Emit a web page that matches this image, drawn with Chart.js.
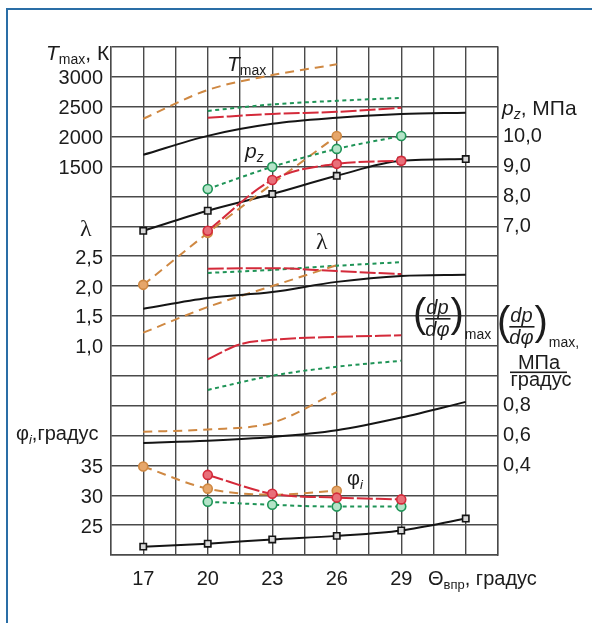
<!DOCTYPE html>
<html>
<head>
<meta charset="utf-8">
<script src="https://cdn.jsdelivr.net/npm/chart.js@4.4.1/dist/chart.umd.min.js"></script>
<style>
  html, body { margin: 0; padding: 0; background: #fff; }
  canvas { display: block; }
</style>
</head>
<body>
<canvas id="engine-chart" width="592" height="623"></canvas>
<script>
// Injection advance angle, degrees
const thetaBlack = [17, 20, 23, 26, 29, 32];
const thetaOrange = [17, 20, 23, 26];
const thetaRedGreen = [20, 23, 26, 29];
const thetaRedDp = [20, 21.5, 23, 26, 29];
const thetaTicks = [17, 20, 23, 26, 29];

// Maximum cycle temperature, K
const tmaxBlack = [1696, 2013, 2214, 2315, 2380, 2400];
const tmaxOrange = [2300, 2780, 3030, 3210];
const tmaxRed = [2317, 2380, 2415, 2483];
const tmaxGreen = [2431, 2540, 2600, 2649];
const tmaxTicks = [1500, 2000, 2500, 3000];

// Maximum combustion pressure, MPa
const pzBlack = [6.85, 7.52, 8.08, 8.69, 9.19, 9.25];
const pzOrange = [5.04, 6.78, 8.42, 10.02];
const pzRed = [6.85, 8.55, 9.09, 9.19];
const pzGreen = [8.25, 8.99, 9.59, 10.02];
const pzTicks = [7, 8, 9, 10];

// Pressure rise ratio
const lambdaBlack = [1.62, 1.80, 1.90, 2.07, 2.17, 2.19];
const lambdaOrange = [1.22, 1.65, 2.0, 2.35];
const lambdaRed = [2.29, 2.30, 2.25, 2.20];
const lambdaGreen = [2.22, 2.27, 2.34, 2.40];
const lambdaTicks = [1.0, 1.5, 2.0, 2.5];

// Maximum rate of pressure rise, MPa/degree
const dpBlack = [0.55, 0.565, 0.59, 0.635, 0.72, 0.825];
const dpOrange = [0.625, 0.64, 0.685, 0.89];
const dpRed = [1.11, 1.21, 1.24, 1.26, 1.27];
const dpGreen = [0.905, 1.0, 1.06, 1.10];
const dpTicks = [0.4, 0.6, 0.8];

// Indicated combustion duration, degrees
const phiBlack = [21.4, 21.9, 22.6, 23.2, 24.1, 26.1];
const phiOrange = [34.8, 31.1, 30.1, 30.75];
const phiRed = [33.4, 30.25, 29.6, 29.3];
const phiGreen = [28.9, 28.4, 28.1, 28.1];
const phiTicks = [25, 30, 35];

// which orange points carry a marker (the one at 23 sits under the red one)
const orangeMarks = [true, true, false, true];

const fontFamily = '"Liberation Sans", Arial, Helvetica, sans-serif';
const textColor = '#1c1c1c';
const gridColor = '#4a4a4a';
const tickFont = { family: fontFamily, size: 20 };

const styles = {
  black:  { color: '#151515', dash: [],      marker: 'rect',   fill: '#d9d9d9' },
  orange: { color: '#cf8842', dash: [9, 6],  marker: 'circle', fill: '#e6a66a' },
  red:    { color: '#d42a3a', dash: [16, 3], marker: 'circle', fill: '#e8707a' },
  green:  { color: '#1f9457', dash: [4, 3.5], marker: 'circle', fill: '#b4e4c8' }
};

// markers: false, true, or one flag per point
function series(xs, ys, axis, kind, markers) {
  const s = styles[kind];
  const radius = Array.isArray(markers)
    ? markers.map(m => m ? 4.5 : 0)
    : (markers ? 4.5 : 0);
  return {
    data: xs.map((x, i) => ({ x: x, y: ys[i] })),
    yAxisID: axis,
    borderColor: s.color,
    borderWidth: 2,
    borderDash: s.dash,
    cubicInterpolationMode: 'monotone',
    pointStyle: s.marker,
    pointRadius: radius,
    pointBackgroundColor: s.fill,
    pointBorderColor: s.color,
    pointBorderWidth: 1.6,
    fill: false
  };
}

function near(v, list) {
  return list.some(t => Math.abs(t - v) < 1e-6);
}

function comma(v, digits) {
  return v.toFixed(digits).replace('.', ',');
}

// extra value axis laid over the main one: same 17 grid rows, own units
function valueAxis(position, weight, min, max, step, ticks, digits, width, padding, offset) {
  return {
    type: 'linear',
    position: position,
    weight: weight,
    min: min,
    max: max,
    grid: { display: false, drawTicks: false },
    border: { display: false },
    ticks: {
      stepSize: step,
      autoSkip: false,
      padding: padding,
      labelOffset: offset,
      font: tickFont,
      color: textColor,
      callback: v => near(v, ticks) ? comma(v, digits) : ''
    },
    afterFit: s => { s.width = width; }
  };
}

// put the overlay axes on top of the main left/right axes
const overlayAxes = {
  id: 'overlayAxes',
  afterLayout(chart) {
    const sc = chart.scales;
    for (const [id, base] of [['yLambda', 'yT'], ['yPhi', 'yT'], ['yDp', 'yPz']]) {
      sc[id].left = sc[base].left;
      sc[id].right = sc[base].right;
      sc[id].width = sc[base].width;
    }
  }
};

// draws a run of [text, style] pieces; style: i = italic, s = subscript
function rich(ctx, x, y, parts, size) {
  size = size || 20;
  for (const [text, style] of parts) {
    const sub = style.includes('s');
    const italic = style.includes('i');
    const fs = sub ? Math.round(size * 0.66) : size;
    ctx.font = (italic ? 'italic ' : '') + fs + 'px ' + fontFamily;
    ctx.fillText(text, x, sub ? y + 4 : y);
    x += ctx.measureText(text).width;
  }
  return x;
}

// (dp/dφ) with a subscript tail, lineY is the fraction bar
function dpdphi(ctx, x, lineY, tail) {
  ctx.textAlign = 'left';
  ctx.font = '40px ' + fontFamily;
  ctx.fillText('(', x, lineY + 8);
  x += ctx.measureText('(').width - 1;
  ctx.font = 'italic 20px ' + fontFamily;
  const w = Math.max(ctx.measureText('dp').width, ctx.measureText('dφ').width);
  ctx.textAlign = 'center';
  ctx.fillText('dp', x + w / 2, lineY - 5);
  ctx.fillText('dφ', x + w / 2, lineY + 17);
  ctx.fillRect(x, lineY - 1, w + 1, 1.6);
  ctx.textAlign = 'left';
  x += w + 1;
  ctx.font = '40px ' + fontFamily;
  ctx.fillText(')', x, lineY + 8);
  x += ctx.measureText(')').width + 1;
  ctx.font = '14px ' + fontFamily;
  ctx.fillText(tail, x, lineY + 20);
}

const captions = {
  id: 'captions',
  beforeDraw(chart) {
    const ctx = chart.ctx;
    ctx.save();
    ctx.fillStyle = '#fff';
    ctx.fillRect(0, 0, chart.width, chart.height);
    ctx.strokeStyle = '#2a6ea6';
    ctx.lineWidth = 2;
    ctx.strokeRect(7, 9, 640, 680);
    ctx.restore();
  },
  afterDraw(chart) {
    const ctx = chart.ctx;
    ctx.save();
    ctx.fillStyle = textColor;
    ctx.textBaseline = 'alphabetic';
    ctx.textAlign = 'left';

    // left axis titles
    rich(ctx, 46, 60, [['T', 'i'], ['max', 's'], [', К', '']], 21);
    ctx.font = '24px "Liberation Serif", serif';
    ctx.fillText('λ', 80, 236);
    rich(ctx, 16, 440, [['φ', ''], ['i', 'is'], [',градус', '']]);

    // right axis titles
    rich(ctx, 502, 115, [['p', 'i'], ['z', 'is'], [', МПа', '']], 21);
    dpdphi(ctx, 497, 327, 'max,');
    ctx.textAlign = 'center';
    ctx.font = '20px ' + fontFamily;
    ctx.fillText('МПа', 539, 369);
    ctx.fillRect(510, 371.5, 57, 1.6);
    ctx.fillText('градус', 541, 386);
    ctx.textAlign = 'left';

    // curve group names inside the plot
    rich(ctx, 227, 71, [['T', 'i'], ['max', 's']], 21);
    rich(ctx, 245, 158, [['p', 'i'], ['z', 'is']], 21);
    ctx.font = '24px "Liberation Serif", serif';
    ctx.fillText('λ', 316, 249);
    dpdphi(ctx, 413, 319, 'max');
    rich(ctx, 347, 485, [['φ', ''], ['i', 'is']]);

    // x axis title
    rich(ctx, 428, 585, [['Θ', ''], ['впр', 's'], [', градус', '']]);
    ctx.restore();
  }
};

const datasets = [
  series(thetaBlack, tmaxBlack, 'yT', 'black', false),
  series(thetaOrange, tmaxOrange, 'yT', 'orange', false),
  series(thetaRedGreen, tmaxRed, 'yT', 'red', false),
  series(thetaRedGreen, tmaxGreen, 'yT', 'green', false),

  series(thetaRedGreen, pzRed, 'yPz', 'red', true),
  series(thetaRedGreen, pzGreen, 'yPz', 'green', true),
  series(thetaOrange, pzOrange, 'yPz', 'orange', orangeMarks),
  series(thetaBlack, pzBlack, 'yPz', 'black', true),

  series(thetaBlack, lambdaBlack, 'yLambda', 'black', false),
  series(thetaOrange, lambdaOrange, 'yLambda', 'orange', false),
  series(thetaRedGreen, lambdaRed, 'yLambda', 'red', false),
  series(thetaRedGreen, lambdaGreen, 'yLambda', 'green', false),

  series(thetaBlack, dpBlack, 'yDp', 'black', false),
  series(thetaOrange, dpOrange, 'yDp', 'orange', false),
  series(thetaRedDp, dpRed, 'yDp', 'red', false),
  series(thetaRedGreen, dpGreen, 'yDp', 'green', false),

  series(thetaRedGreen, phiRed, 'yPhi', 'red', true),
  series(thetaRedGreen, phiGreen, 'yPhi', 'green', true),
  series(thetaOrange, phiOrange, 'yPhi', 'orange', orangeMarks),
  series(thetaBlack, phiBlack, 'yPhi', 'black', true)
];

const config = {
  type: 'line',
  data: { datasets: datasets },
  options: {
    responsive: false,
    animation: false,
    layout: { padding: { top: 47, left: 0, right: 0, bottom: 0 } },
    plugins: {
      legend: { display: false },
      tooltip: { enabled: false }
    },
    scales: {
      x: {
        type: 'linear',
        position: 'bottom',
        min: 15.5,
        max: 33.5,
        grid: { color: gridColor, lineWidth: 1.4, drawTicks: false },
        border: { color: gridColor, width: 1.4 },
        ticks: {
          stepSize: 1.5,
          autoSkip: false,
          maxRotation: 0,
          padding: 12,
          font: tickFont,
          color: textColor,
          callback: v => near(v, thetaTicks) ? String(v) : ''
        },
        afterFit: s => { s.height = 68; }
      },
      yT: {
        type: 'linear',
        position: 'left',
        weight: 5,
        min: -5000,
        max: 3500,
        grid: { color: gridColor, lineWidth: 1.4, drawTicks: false },
        border: { color: gridColor, width: 1.4 },
        ticks: {
          stepSize: 500,
          padding: 8,
          labelOffset: 2,
          font: tickFont,
          color: textColor,
          callback: v => near(v, tmaxTicks) ? String(v) : ''
        },
        afterFit: s => { s.width = 111; }
      },
      yLambda: valueAxis('left', 1, -2.5, 6, 0.5, lambdaTicks, 1, 0, 8, 2),
      yPhi: valueAxis('left', 0, 20, 105, 5, phiTicks, 0, 0, 8, 2),
      yPz: Object.assign(valueAxis('right', 5, -4, 13, 1, pzTicks, 1, 94, 5, 0), {
        border: { display: true, color: gridColor, width: 1.4 }
      }),
      yDp: valueAxis('right', 0, -0.2, 3.2, 0.2, dpTicks, 1, 0, 5, 0)
    }
  },
  plugins: [overlayAxes, captions]
};

new Chart(document.getElementById('engine-chart'), config);
</script>
</body>
</html>
